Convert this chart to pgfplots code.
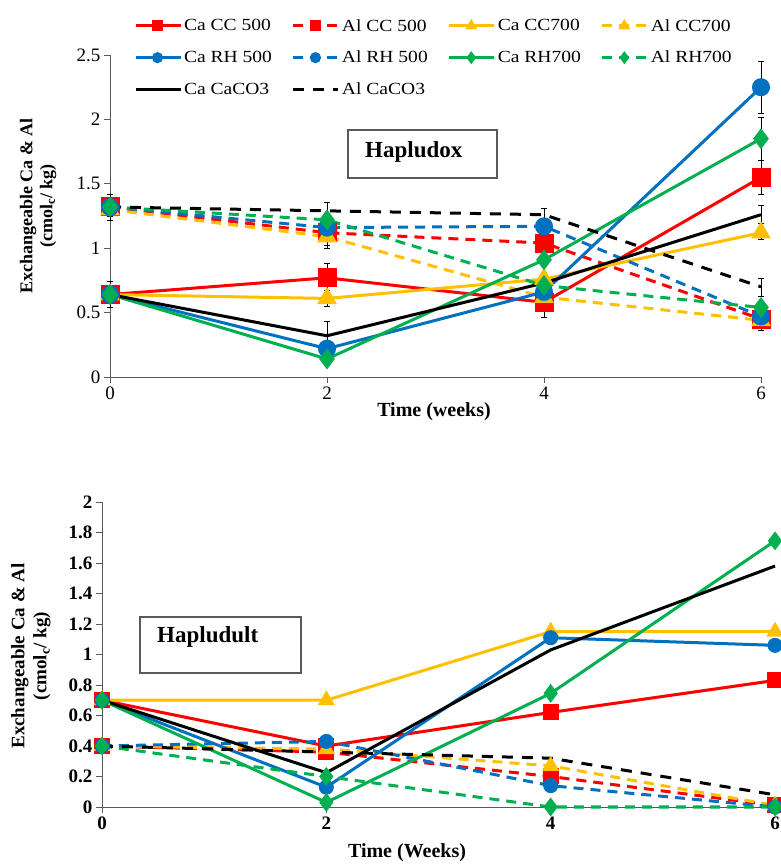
\documentclass[border=0pt]{standalone}
\usepackage{fontspec}
\setmainfont{Liberation Serif}
\newfontfamily\legfont[FakeStretch=1.15]{Liberation Serif}
\usepackage{pgfplots}
\pgfplotsset{compat=1.18}
\definecolor{cRed}{RGB}{255,0,0}
\definecolor{cYel}{RGB}{255,192,0}
\definecolor{cBlu}{RGB}{0,112,192}
\definecolor{cGrn}{RGB}{0,176,80}
\definecolor{axgray}{RGB}{89,89,89}
\pgfplotsset{
  common/.style={scale only axis, axis x line*=bottom, axis y line*=left,
    axis line style={draw=axgray, line width=0.9bp},
    tick style={draw=axgray, line width=0.9bp},
    tick align=outside, major tick length=6bp,
    xmin=0, xmax=6, xtick={0,2,4,6}, clip=false,
    /pgf/number format/assume math mode=true},
  ln/.style={line width=3bp, mark options={solid}},
  dsh/.style={dash pattern=on 10bp off 7bp},
  errs/.style={error bars/.cd, y dir=both, y explicit,
    error bar style={line width=0.6bp, black, solid},
    error mark options={rotate=90, mark size=3bp, black, line width=0.6bp, solid}},
}
\begin{document}
\begin{tikzpicture}
\path[use as bounding box] (0,0) rectangle (781bp,864bp);
% ---------------- TOP: Hapludox ----------------
\begin{axis}[common,
  at={(110bp,487bp)}, anchor=south west,
  width=651bp, height=322bp,
  ymin=0, ymax=2.5, ytick={0,0.5,1,1.5,2,2.5},
  tick label style={font=\fontsize{19bp}{22bp}\selectfont},
  legend columns=4, legend cell align=left,
  legend image code/.code={\draw[#1, mark repeat=2, mark phase=2, mark size=4bp] plot coordinates {(0bp,0bp) (22bp,0bp) (45bp,0bp)};},
  legend style={at={(0.032,1.124)}, anchor=north west, draw=none, fill=none,
    font=\legfont\fontsize{17bp}{20bp}\selectfont, row sep=14.5bp,
    /tikz/every even column/.append style={column sep=18bp}},
]
\addplot[ln, cRed, mark=square*, mark size=8bp, errs] coordinates {(0,0.64) +- (0,0.05) (2,0.77) +- (0,0.11) (4,0.58) +- (0,0.12) (6,1.55) +- (0,0.13)};
\addlegendentry{Ca CC 500}
\addplot[ln, dsh, cRed, mark=square*, mark size=8bp, errs] coordinates {(0,1.32) +- (0,0.10) (2,1.12) +- (0,0.10) (4,1.04) +- (0,0.06) (6,0.45) +- (0,0.06)};
\addlegendentry{Al CC 500}
\addplot[ln, cYel, mark=triangle*, mark size=8.5bp, errs] coordinates {(0,0.64) +- (0,0.05) (2,0.61) +- (0,0.06) (4,0.76) +- (0,0.05) (6,1.12) +- (0,0.05)};
\addlegendentry{Ca CC700}
\addplot[ln, dsh, cYel, mark=triangle*, mark size=8.5bp, errs] coordinates {(0,1.30) +- (0,0.05) (2,1.09) +- (0,0.09) (4,0.62) +- (0,0.05) (6,0.44) +- (0,0.08)};
\addlegendentry{Al CC700}
\addplot[ln, cBlu, mark=*, mark size=7.5bp, errs] coordinates {(0,0.64) +- (0,0.10) (2,0.22) +- (0,0.05) (4,0.66) +- (0,0.20) (6,2.25) +- (0,0.20)};
\addlegendentry{Ca RH 500}
\addplot[ln, dsh, cBlu, mark=*, mark size=7.5bp, errs] coordinates {(0,1.32) +- (0,0.05) (2,1.16) +- (0,0.10) (4,1.17) +- (0,0.14) (6,0.47) +- (0,0.05)};
\addlegendentry{Al RH 500}
\addplot[ln, cGrn, mark=diamond*, mark size=8bp, errs] coordinates {(0,0.64) +- (0,0.05) (2,0.14) +- (0,0.05) (4,0.91) +- (0,0.05) (6,1.85) +- (0,0.17)};
\addlegendentry{Ca RH700}
\addplot[ln, dsh, cGrn, mark=diamond*, mark size=8bp, errs] coordinates {(0,1.32) +- (0,0.05) (2,1.22) +- (0,0.05) (4,0.71) +- (0,0.05) (6,0.54) +- (0,0.05)};
\addlegendentry{Al RH700}
\addplot[ln, black, mark=none, errs] coordinates {(0,0.64) +- (0,0.05) (2,0.32) +- (0,0.11) (4,0.73) +- (0,0.05) (6,1.26) +- (0,0.07)};
\addlegendentry{Ca CaCO3}
\addplot[ln, black, dash pattern=on 11bp off 9bp, mark=none, errs] coordinates {(0,1.32) +- (0,0.10) (2,1.29) +- (0,0.07) (4,1.26) +- (0,0.05) (6,0.70) +- (0,0.07)};
\addlegendentry{Al CaCO3}
\end{axis}
% ---------------- BOTTOM: Hapludult ----------------
\begin{axis}[common,
  at={(102bp,57bp)}, anchor=south west,
  width=673bp, height=305bp,
  ymin=0, ymax=2, ytick={0,0.2,...,2.01},
  tick label style={font=\bfseries\fontsize{19bp}{22bp}\selectfont},
]
\addplot[ln, cRed, mark=square*, mark size=6.5bp] coordinates {(0,0.70) (2,0.40) (4,0.62) (6,0.83)};
\addplot[ln, dsh, cRed, mark=square*, mark size=6.5bp] coordinates {(0,0.40) (2,0.36) (4,0.20) (6,0.01)};
\addplot[ln, cYel, mark=triangle*, mark size=7bp] coordinates {(0,0.70) (2,0.70) (4,1.15) (6,1.15)};
\addplot[ln, dsh, cYel, mark=triangle*, mark size=7bp] coordinates {(0,0.40) (2,0.38) (4,0.27) (6,0.01)};
\addplot[ln, cBlu, mark=*, mark size=6bp] coordinates {(0,0.70) (2,0.13) (4,1.11) (6,1.06)};
\addplot[ln, dsh, cBlu, mark=*, mark size=6bp] coordinates {(0,0.40) (2,0.43) (4,0.14) (6,0.00)};
\addplot[ln, cGrn, mark=diamond*, mark size=7bp] coordinates {(0,0.70) (2,0.03) (4,0.745) (6,1.745)};
\addplot[ln, dsh, cGrn, mark=diamond*, mark size=7bp] coordinates {(0,0.40) (2,0.20) (4,0.00) (6,0.00)};
\addplot[ln, black, mark=none] coordinates {(0,0.70) (2,0.225) (4,1.03) (6,1.58)};
\addplot[ln, black, dash pattern=on 11bp off 9bp, mark=none] coordinates {(0,0.40) (2,0.36) (4,0.32) (6,0.08)};
\end{axis}
% ---------------- labels and boxes ----------------
\node[rotate=90, align=center, font=\bfseries\fontsize{18bp}{20bp}\selectfont] at (38bp,658bp) {Exchangeable Ca \& Al\\(cmol\textsubscript{c}/ kg)};
\node[rotate=90, align=center, font=\bfseries\fontsize{19bp}{22bp}\selectfont] at (31bp,208bp) {Exchangeable Ca \& Al\\(cmol\textsubscript{c}/ kg)};
\node[font=\bfseries\fontsize{20bp}{22bp}\selectfont] at (434bp,452bp) {Time (weeks)};
\node[font=\bfseries\fontsize{20bp}{22bp}\selectfont] at (407bp,11bp) {Time (Weeks)};
\draw[axgray, line width=1.2bp, fill=white] (348bp,686bp) rectangle (497bp,734bp);
\node[anchor=west, inner sep=0pt, font=\bfseries\fontsize{23bp}{26bp}\selectfont] at (365bp,712bp) {Hapludox};
\draw[axgray, line width=1.2bp, fill=white] (140bp,191bp) rectangle (301bp,247bp);
\node[anchor=west, inner sep=0pt, font=\bfseries\fontsize{23bp}{26bp}\selectfont] at (157bp,227bp) {Hapludult};
\end{tikzpicture}
\end{document}
